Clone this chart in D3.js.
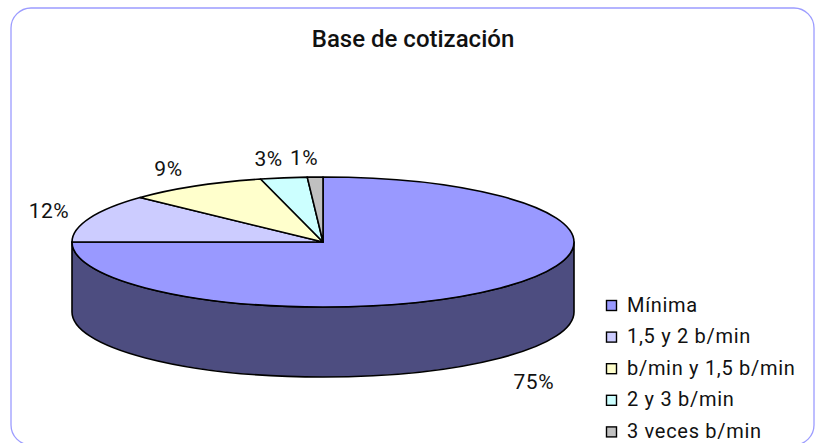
<!DOCTYPE html>
<html>
<head>
<meta charset="utf-8">
<script src="https://cdn.jsdelivr.net/npm/d3@7"></script>
<style>
  body { margin: 0; background: #fff; }
  text { font-family: Roboto, "DejaVu Sans", sans-serif; fill: #111; }
</style>
</head>
<body>
<svg id="chart" width="820" height="443"></svg>
<script>
const width = 820;
const height = 443;

const categories = ["Mínima", "1,5 y 2 b/min", "b/min y 1,5 b/min", "2 y 3 b/min", "3 veces b/min"];
const values = [75, 12, 9, 3, 1];
const colors = ["#9999FF", "#CCCCFF", "#FFFFCC", "#CCFFFF", "#C0C0C0"];
const title = "Base de cotización";

// pie geometry (3d ellipse)
const cx = 323, cy = 242;
const rx = 251, ry = 65;
const depth = 70;

const svg = d3.select("svg#chart");

// border
svg.append("rect")
  .attr("x", 11).attr("y", 8)
  .attr("width", 803).attr("height", 437)
  .attr("rx", 20).attr("ry", 20)
  .attr("fill", "none")
  .attr("stroke", "#9C9CFF")
  .attr("stroke-width", 1.3);

svg.append("text")
  .attr("x", 413).attr("y", 47)
  .attr("text-anchor", "middle")
  .style("font-size", "24px")
  .style("font-weight", 500)
  .text(title);

const color = d3.scaleOrdinal().domain(categories).range(colors);

const pie = d3.pie().sort(null).value(d => d.value).startAngle(0).endAngle(2 * Math.PI);
const arcs = pie(categories.map((c, i) => ({ name: c, value: values[i] })));

function pt(a, dy) {
  return [cx + rx * Math.sin(a), cy - ry * Math.cos(a) + (dy || 0)];
}

function topPath(d) {
  const p0 = pt(d.startAngle), p1 = pt(d.endAngle);
  const large = d.endAngle - d.startAngle > Math.PI ? 1 : 0;
  return "M" + cx + "," + cy + "L" + p0 + "A" + rx + "," + ry + " 0 " + large + " 1 " + p1 + "Z";
}

// only the front half of the rim is visible
function sidePath(d) {
  const a0 = Math.max(d.startAngle, Math.PI / 2);
  const a1 = Math.min(d.endAngle, 3 * Math.PI / 2);
  if (a1 <= a0) return null;
  const p0 = pt(a0), p1 = pt(a1), q0 = pt(a0, depth), q1 = pt(a1, depth);
  return "M" + p0 + "A" + rx + "," + ry + " 0 0 1 " + p1 +
    "L" + q1 + "A" + rx + "," + ry + " 0 0 0 " + q0 + "Z";
}

function shade(c) {
  const r = d3.rgb(c);
  return d3.rgb(r.r * 0.5, r.g * 0.5, r.b * 0.5);
}

const plot = svg.append("g").attr("id", "pie");

plot.selectAll("path.side")
  .data(arcs.filter(d => sidePath(d)))
  .enter()
  .append("path")
  .attr("class", "side")
  .attr("d", sidePath)
  .attr("fill", d => shade(color(d.data.name)))
  .attr("stroke", "#000")
  .attr("stroke-width", 1.6)
  .attr("stroke-linejoin", "round");

plot.selectAll("path.top")
  .data(arcs)
  .enter()
  .append("path")
  .attr("class", "top")
  .attr("d", topPath)
  .attr("fill", d => color(d.data.name))
  .attr("stroke", "#000")
  .attr("stroke-width", 1.6)
  .attr("stroke-linejoin", "round");

// percent labels outside the ellipse
plot.selectAll("text.pct")
  .data(arcs)
  .enter()
  .append("text")
  .attr("class", "pct")
  .attr("text-anchor", "middle")
  .attr("dy", "0.36em")
  .style("font-size", "21px")
  .style("letter-spacing", "0.5px")
  .attr("x", d => {
    const a = (d.startAngle + d.endAngle) / 2;
    return cx + (rx + 33) * Math.sin(a) + Math.sign(Math.sin(a)) * 10;
  })
  .attr("y", d => {
    const a = (d.startAngle + d.endAngle) / 2;
    const c = Math.cos(a);
    return c < 0 ? cy - (ry + 33) * c + depth : cy - (ry + 20) * c;
  })
  .text(d => d.value + "%");

// legend
const legendY = d3.scaleBand().domain(categories).range([300, 458]);

const legend = svg.append("g").attr("id", "legend");
const rows = legend.selectAll("g.row")
  .data(categories)
  .enter()
  .append("g")
  .attr("class", "row")
  .attr("transform", d => "translate(606," + legendY(d) + ")");

rows.append("rect")
  .attr("x", 0.5).attr("y", 0.5)
  .attr("width", 10).attr("height", 10)
  .attr("fill", d => color(d))
  .attr("stroke", "#000")
  .attr("stroke-width", 1.4);

rows.append("text")
  .attr("x", 21).attr("y", 11.5)
  .style("font-size", "20px")
  .style("letter-spacing", "0.7px")
  .text(d => d);
</script>
</body>
</html>
